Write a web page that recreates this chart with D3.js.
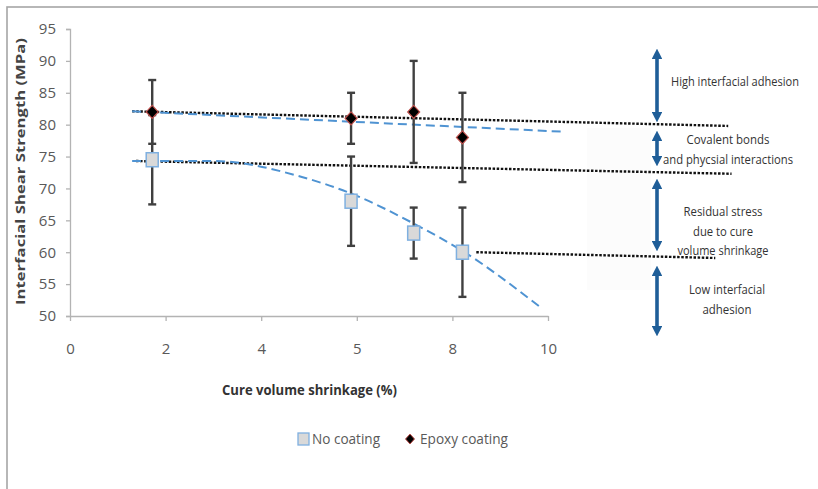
<!DOCTYPE html>
<html>
<head>
<meta charset="utf-8">
<script src="https://cdn.jsdelivr.net/npm/d3@7"></script>
<style>
  html, body { margin: 0; padding: 0; background: #fff; }
  svg { display: block; }
  .tick-label { font-family: "Open Sans", sans-serif; fill: #595959; }
  .note { font-family: "Open Sans", sans-serif; fill: #333; font-size: 12px; }
</style>
</head>
<body>
<svg id="chart" width="818" height="489"></svg>
<script>
// ---- data ----
const xTickValues = [0, 2, 4, 6, 8, 10];
const xTickLabels = ["0", "2", "4", "5", "8", "10"];
const yTickValues = [50, 55, 60, 65, 70, 75, 80, 85, 90, 95];

const shrinkage = [1.72, 5.88, 7.19, 8.21];
const noCoating = [74.5, 68, 63, 60];
const noCoatingErr = [7, 7, 4, 7];
const epoxy = [82, 81, 82, 78];
const epoxyErr = [5, 4, 8, 7];

// trend lines (x, y)
const epoxyTrend = [[1.3, 82.1], [10.3, 78.9]];
const noCoatingTrend = [[1.3, 74.3], [3.0, 74.3], [4.85, 71.8], [5.88, 69.2], [7.19, 64.5], [8.21, 60.2], [9.87, 51.2]];

// dotted threshold lines (x, y)
const thresholdLines = [
  [[1.3, 82.1], [13.77, 79.8]],
  [[1.38, 74.3], [13.84, 72.3]],
  [[8.5, 60.0], [13.5, 59.1]]
];

// band annotations: arrow ends (pixel y) and text lines with their widths
const bandArrows = [[50, 121], [132, 165], [180, 250], [267, 335]];
const bandTexts = [
  { lines: ["High interfacial adhesion"], widths: [128], x: 735, y: 86 },
  { lines: ["Covalent bonds", "and phycsial interactions"], widths: [83, 130], x: 728, y: 144 },
  { lines: ["Residual stress", "due to cure", "volume shrinkage"], widths: [79, 60, 91], x: 723, y: 216 },
  { lines: ["Low interfacial", "adhesion"], widths: [76, 49], x: 727, y: 294 }
];

const svg = d3.select("#chart");

// outer frame
svg.append("rect").attr("x", 7).attr("y", 7).attr("width", 830).attr("height", 500)
  .attr("fill", "none").attr("stroke", "#a6a6a6").attr("stroke-width", 1.6);

// faint panel behind the annotations
svg.append("rect").attr("x", 587).attr("y", 128).attr("width", 64).attr("height", 162)
  .attr("fill", "#fcfcfc");

const x = d3.scaleLinear().domain([0, 10]).range([70, 548]);
const y = d3.scaleLinear().domain([50, 95]).range([316, 29]);

// y axis
const yAxis = d3.axisLeft(y).tickValues(yTickValues).tickSize(4).tickPadding(10);
const gy = svg.append("g").attr("transform", `translate(${x(0)},0)`).call(yAxis);
gy.select(".domain").attr("stroke", "#b3b3b3").attr("stroke-width", 1.3);
gy.selectAll(".tick line").attr("stroke", "#b3b3b3").attr("stroke-width", 1.3);
gy.selectAll(".tick text").attr("class", "tick-label").style("font-size", "15px");

// x axis
const xAxis = d3.axisBottom(x).tickValues(xTickValues)
  .tickFormat((d, i) => xTickLabels[i]).tickSize(5).tickSizeOuter(0).tickPadding(22);
const gx = svg.append("g").attr("transform", `translate(0,${y(50)})`).call(xAxis);
gx.select(".domain").attr("stroke", "#b3b3b3").attr("stroke-width", 1.3);
gx.selectAll(".tick line").attr("stroke", "#b3b3b3").attr("stroke-width", 1.3);
gx.selectAll(".tick text").attr("class", "tick-label").style("font-size", "15px");

// axis titles
svg.append("text").attr("x", 222).attr("y", 395)
  .attr("font-family", "'Open Sans', sans-serif")
  .attr("font-weight", "bold").attr("font-size", 14).attr("fill", "#333")
  .attr("textLength", 175).attr("lengthAdjust", "spacingAndGlyphs")
  .text("Cure volume shrinkage (%)");

svg.append("text")
  .attr("transform", `translate(25,305) rotate(-90)`)
  .attr("font-family", "'Open Sans', sans-serif")
  .attr("font-weight", "bold").attr("font-size", 12.5).attr("fill", "#444")
  .attr("textLength", 267).attr("lengthAdjust", "spacingAndGlyphs")
  .text("Interfacial Shear Strength (MPa)");

const line = d3.line().x(d => x(d[0])).y(d => y(d[1]));

// dotted threshold lines
thresholdLines.forEach(pts => {
  svg.append("path").attr("d", line(pts)).attr("fill", "none")
    .attr("stroke", "#111").attr("stroke-width", 2.4).attr("stroke-dasharray", "2.5,1.6");
});

// trend lines
svg.append("path").attr("d", line(epoxyTrend)).attr("fill", "none")
  .attr("stroke", "#4f93d2").attr("stroke-width", 2).attr("stroke-dasharray", "9,5");
svg.append("path").attr("d", line.curve(d3.curveMonotoneX)(noCoatingTrend)).attr("fill", "none")
  .attr("stroke", "#4f93d2").attr("stroke-width", 2).attr("stroke-dasharray", "9,5");

// error bars
function errorBars(vals, errs) {
  const g = svg.append("g").attr("stroke", "#404040").attr("stroke-width", 2.4);
  vals.forEach((v, i) => {
    const cx = x(shrinkage[i]);
    g.append("line").attr("x1", cx).attr("x2", cx).attr("y1", y(v - errs[i])).attr("y2", y(v + errs[i]));
    [v - errs[i], v + errs[i]].forEach(e => {
      g.append("line").attr("x1", cx - 4).attr("x2", cx + 4).attr("y1", y(e)).attr("y2", y(e));
    });
  });
}
errorBars(noCoating, noCoatingErr);
errorBars(epoxy, epoxyErr);

// markers
noCoating.forEach((v, i) => {
  svg.append("rect").attr("x", x(shrinkage[i]) - 6).attr("y", y(v) - 7)
    .attr("width", 12).attr("height", 14)
    .attr("fill", "#d9d9d9").attr("stroke", "#7fb0e0").attr("stroke-width", 1.5);
});
const diamondPath = (w, h) => `M0,${-h}L${w},0L0,${h}L${-w},0Z`;
epoxy.forEach((v, i) => {
  svg.append("path").attr("d", diamondPath(6, 6.5))
    .attr("transform", `translate(${x(shrinkage[i])},${y(v)})`)
    .attr("fill", "#000").attr("stroke", "#c0504d").attr("stroke-width", 1.2);
});

// double-headed arrows
const defs = svg.append("defs");
["start", "end"].forEach(k => {
  defs.append("marker").attr("id", "arrow-" + k)
    .attr("viewBox", "0 0 10 10").attr("refX", 5).attr("refY", 5)
    .attr("markerWidth", 3).attr("markerHeight", 3)
    .attr("orient", k === "end" ? "auto" : "auto-start-reverse")
    .append("path").attr("d", "M0,0 L10,5 L0,10 Z").attr("fill", "#1f5e98");
});
bandArrows.forEach(([a, b]) => {
  svg.append("line").attr("x1", 657).attr("x2", 657).attr("y1", a + 4).attr("y2", b - 4)
    .attr("stroke", "#1f5e98").attr("stroke-width", 3.6)
    .attr("marker-start", "url(#arrow-start)").attr("marker-end", "url(#arrow-end)");
});

// band labels
bandTexts.forEach(t => {
  t.lines.forEach((s, i) => {
    svg.append("text").attr("class", "note")
      .attr("x", t.x - t.widths[i] / 2).attr("y", t.y + i * 19.5)
      .attr("textLength", t.widths[i]).attr("lengthAdjust", "spacingAndGlyphs")
      .text(s);
  });
});

// legend
const legend = svg.append("g").attr("transform", "translate(0,439)");
legend.append("rect").attr("x", 298).attr("y", -6).attr("width", 11).attr("height", 12)
  .attr("fill", "#d9d9d9").attr("stroke", "#7fb0e0").attr("stroke-width", 1.3);
legend.append("text").attr("class", "tick-label").attr("x", 312).attr("y", 5)
  .style("font-size", "15px").attr("textLength", 68).attr("lengthAdjust", "spacingAndGlyphs")
  .text("No coating");
legend.append("path").attr("d", diamondPath(4.5, 5))
  .attr("transform", "translate(410,0)").attr("fill", "#000").attr("stroke", "#c0504d");
legend.append("text").attr("class", "tick-label").attr("x", 420).attr("y", 5)
  .style("font-size", "15px").attr("textLength", 88).attr("lengthAdjust", "spacingAndGlyphs")
  .text("Epoxy coating");
</script>
</body>
</html>
